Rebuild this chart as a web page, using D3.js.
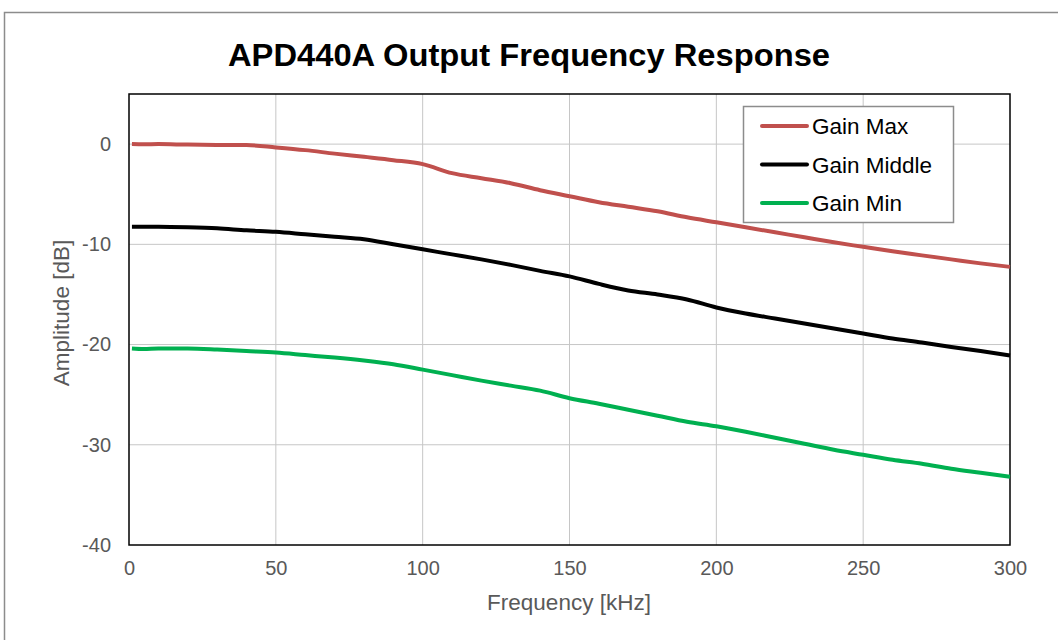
<!DOCTYPE html>
<html><head><meta charset="utf-8">
<script src="https://cdn.jsdelivr.net/npm/d3@7"></script>
<style>body{margin:0;background:#fff;}svg{display:block;font-family:"Liberation Sans",Arial,sans-serif;}</style>
</head><body>
<svg id="c" width="1058" height="640"></svg>
<script>
const title = "APD440A Output Frequency Response";
const xLabel = "Frequency [kHz]";
const yLabel = "Amplitude [dB]";
const xTicks = [0, 50, 100, 150, 200, 250, 300];
const yTicks = [0, -10, -20, -30, -40];
const freq = [1, 5, 10, 20, 30, 40, 50, 60, 70, 80, 90, 100, 110, 120, 130, 140, 150, 160, 170, 180, 190, 200, 210, 220, 230, 240, 250, 260, 270, 280, 290, 300];
const gainMax = [0, -0.02, 0, -0.05, -0.08, -0.1, -0.33, -0.6, -0.95, -1.27, -1.6, -2.0, -2.9, -3.4, -3.9, -4.6, -5.2, -5.8, -6.25, -6.7, -7.3, -7.8, -8.3, -8.8, -9.3, -9.8, -10.25, -10.7, -11.1, -11.5, -11.9, -12.25];
const gainMiddle = [-8.25, -8.25, -8.25, -8.3, -8.4, -8.6, -8.75, -9.0, -9.25, -9.5, -10.0, -10.5, -11.0, -11.5, -12.05, -12.65, -13.2, -13.95, -14.6, -15.0, -15.5, -16.3, -16.9, -17.4, -17.9, -18.4, -18.9, -19.4, -19.8, -20.25, -20.65, -21.1];
const gainMin = [-20.4, -20.45, -20.4, -20.4, -20.5, -20.65, -20.8, -21.05, -21.3, -21.6, -21.97, -22.5, -23.05, -23.6, -24.1, -24.6, -25.35, -25.9, -26.5, -27.1, -27.7, -28.15, -28.7, -29.3, -29.9, -30.5, -31.0, -31.5, -31.9, -32.4, -32.8, -33.2];
const seriesNames = ["Gain Max", "Gain Middle", "Gain Min"];
const seriesColors = ["#c0504d", "#000000", "#00b050"];
const seriesValues = [gainMax, gainMiddle, gainMin];

const svg = d3.select("#c");
const L = 129, R = 1010, T = 94, B = 545;
const x = d3.scaleLinear().domain([0, 300]).range([L, R]);
const y = d3.scaleLinear().domain([-40, 5]).range([B, T]);

// outer chart border
svg.append("rect").attr("x", 4.5).attr("y", 12.5).attr("width", 1070).attr("height", 650)
  .attr("fill", "none").attr("stroke", "#8c8c8c").attr("stroke-width", 1.5);

svg.append("text").attr("x", 228).attr("y", 66)
  .attr("font-size", 31).attr("font-weight", "bold").attr("fill", "#000")
  .attr("textLength", 602).attr("lengthAdjust", "spacingAndGlyphs").text(title);

// gridlines
const grid = svg.append("g");
grid.selectAll("line.v").data(xTicks.slice(1, -1)).join("line")
  .attr("x1", d => x(d)).attr("x2", d => x(d)).attr("y1", T).attr("y2", B)
  .attr("stroke", "#c6c6c6").attr("stroke-width", 1);
grid.selectAll("line.h").data(yTicks.slice(0, -1)).join("line")
  .attr("x1", L).attr("x2", R).attr("y1", d => y(d)).attr("y2", d => y(d))
  .attr("stroke", "#c6c6c6").attr("stroke-width", 1);

// axes
const fmt = d => String(d);
const xa = svg.append("g").attr("transform", `translate(0,${B})`)
  .call(d3.axisBottom(x).tickValues(xTicks).tickFormat(fmt).tickSize(0).tickPadding(16));
const ya = svg.append("g").attr("transform", `translate(${L},0)`)
  .call(d3.axisLeft(y).tickValues(yTicks).tickFormat(fmt).tickSize(0).tickPadding(18));
[xa, ya].forEach(g => {
  g.select(".domain").remove();
  g.selectAll("text").attr("font-size", 20).attr("fill", "#595959").attr("font-family", "Liberation Sans, Arial, sans-serif");
});

// plot border
svg.append("rect").attr("x", L).attr("y", T).attr("width", R - L).attr("height", B - T)
  .attr("fill", "none").attr("stroke", "#000").attr("stroke-width", 1.5);

// lines
const line = d3.line().x((d, i) => x(freq[i])).y(d => y(d)).curve(d3.curveMonotoneX);
seriesValues.forEach((vals, k) => {
  svg.append("path").datum(vals).attr("d", line).attr("fill", "none")
    .attr("stroke", seriesColors[k]).attr("stroke-width", 4).attr("stroke-linejoin", "round");
});

// axis titles
svg.append("text").attr("x", 569).attr("y", 610).attr("text-anchor", "middle")
  .attr("font-size", 22.5).attr("fill", "#595959").text(xLabel);
svg.append("text").attr("transform", "translate(69,313) rotate(-90)").attr("text-anchor", "middle")
  .attr("font-size", 22.5).attr("fill", "#595959").text(yLabel);

// legend
const lg = svg.append("g");
lg.append("rect").attr("x", 743.5).attr("y", 106.5).attr("width", 210).attr("height", 116)
  .attr("fill", "#fff").attr("stroke", "#8c8c8c").attr("stroke-width", 1.5);
const rowsY = [126, 164.5, 203];
seriesNames.forEach((n, k) => {
  lg.append("line").attr("x1", 762).attr("x2", 807).attr("y1", rowsY[k]).attr("y2", rowsY[k])
    .attr("stroke", seriesColors[k]).attr("stroke-width", 4).attr("stroke-linecap", "round");
  lg.append("text").attr("x", 812).attr("y", rowsY[k] + 8).attr("font-size", 22.5).attr("fill", "#000").text(n);
});
</script>
</body></html>
